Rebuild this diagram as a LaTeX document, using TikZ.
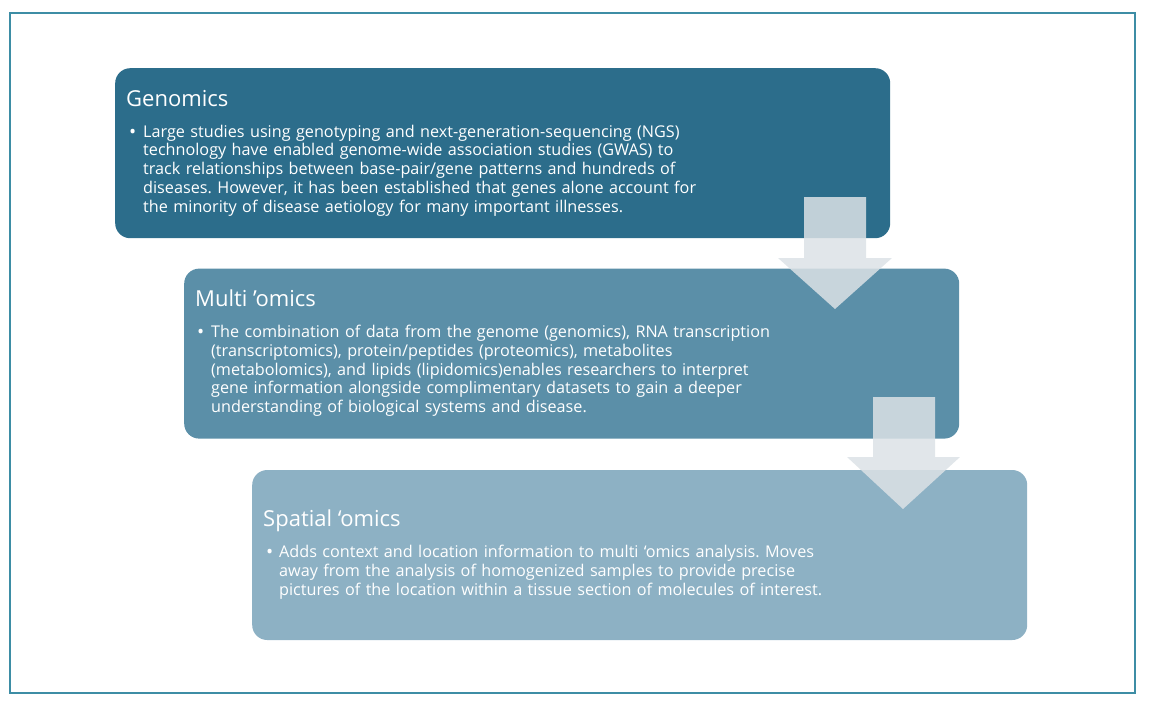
\documentclass[tikz,border=0pt]{standalone}
\usepackage{fontspec}
\setmainfont{Open Sans}
\usepackage{xcolor}
\usetikzlibrary{positioning}

\definecolor{frameteal}{HTML}{3D8DA5}
\definecolor{genblue}{HTML}{2C6D8B}
\definecolor{multiblue}{HTML}{5B8FA8}
\definecolor{spatblue}{HTML}{8DB1C4}
\definecolor{arrowgrey}{HTML}{DCE2E6}

\frenchspacing

\begin{document}
\begin{tikzpicture}[
    x=1pt, y=-1pt,
    stage/.style={rectangle, rounded corners=15pt, minimum width=775pt, minimum height=170pt, inner sep=0pt},
    stagetitle/.style={anchor=base west, inner sep=0pt, text=white, font=\fontsize{22}{26}\selectfont},
    stagebody/.style={anchor=base west, inner sep=0pt, text=white, text width=700pt, align=left, font=\fontsize{16.2}{18.8}\selectfont},
    bullet/.style={anchor=base west, inner sep=0pt, text=white, font=\fontsize{19}{18.8}\selectfont},
    flowarrow/.style={fill=arrowgrey, fill opacity=0.85}
]
\useasboundingbox (0,0) rectangle (1150,710);

% outer frame
\draw[frameteal, line width=1.5pt] (10,13) rectangle (1135,693);

% stages
\node[stage, fill=genblue, anchor=north west] (genomics) at (115,68) {};
\node[stage, fill=multiblue, below right=30pt and 69pt of genomics.south west] (multi) {};
\node[stage, fill=spatblue, below right=31pt and 68pt of multi.south west] (spatial) {};

% Genomics
\node[stagetitle] (gentitle) at ([shift={(11,38)}]genomics.north west) {Genomics};
\node[bullet] (genbullet) at ([shift={(14,70)}]genomics.north west) {•};
\node[stagebody] (gentext) at ([shift={(28,69)}]genomics.north west)
  {Large studies using genotyping and next-generation-sequencing (NGS)\\
   technology have enabled genome-wide association studies (GWAS) to\\
   track relationships between base-pair/gene patterns and hundreds of\\
   diseases. However, it has been established that genes alone account for\\
   the minority of disease aetiology for many important illnesses.};

% Multi 'omics
\node[stagetitle] (multititle) at ([shift={(11,38)}]multi.north west) {Multi ’omics};
\node[bullet] (multibullet) at ([shift={(13,70)}]multi.north west) {•};
\node[stagebody] (multitext) at ([shift={(27,69)}]multi.north west)
  {The combination of data from the genome (genomics), RNA transcription\\
   (transcriptomics), protein/peptides (proteomics), metabolites\\
   (metabolomics), and lipids (lipidomics)enables researchers to interpret\\
   gene information alongside complimentary datasets to gain a deeper\\
   understanding of biological systems and disease.};

% Spatial 'omics
\node[stagetitle] (spattitle) at ([shift={(11,57)}]spatial.north west) {Spatial ‘omics};
\node[bullet] (spatbullet) at ([shift={(14,89)}]spatial.north west) {•};
\node[stagebody] (spattext) at ([shift={(27,88)}]spatial.north west)
  {Adds context and location information to multi ‘omics analysis. Moves\\
   away from the analysis of homogenized samples to provide precise\\
   pictures of the location within a tissue section of molecules of interest.};

% arrows between stages
\fill[flowarrow] (804,197) -- (866,197) -- (866,258) -- (892,258) -- (835,309)
  -- (778,258) -- (804,258) -- cycle;
\fill[flowarrow] (873,397) -- (935,397) -- (935,457) -- (960,457) -- (903,509)
  -- (847,457) -- (873,457) -- cycle;

\end{tikzpicture}
\end{document}
